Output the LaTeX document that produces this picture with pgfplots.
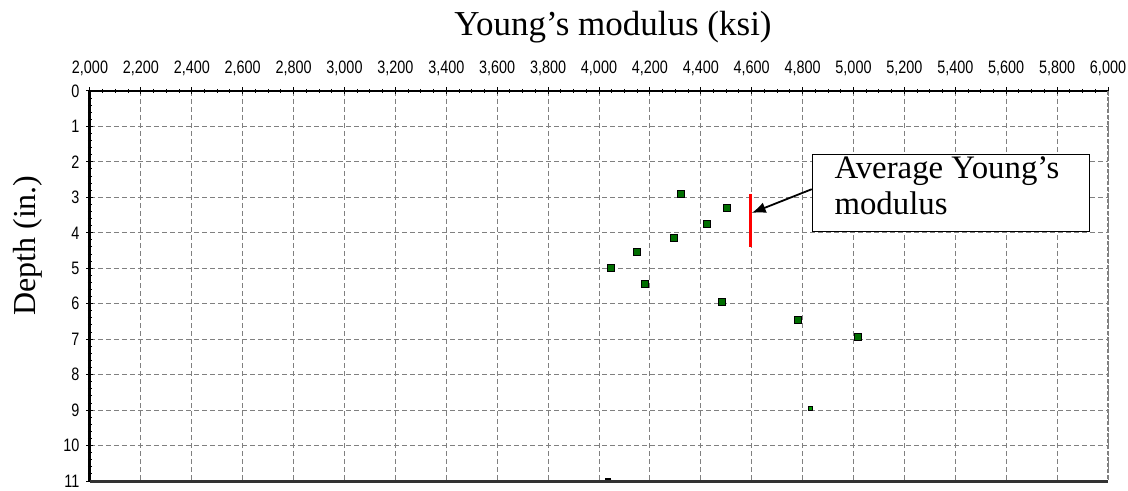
\documentclass[border=0pt]{standalone}
\usepackage{fontspec}
\setmainfont{Liberation Serif}
\newfontfamily\tickfont[FakeStretch=0.8]{Liberation Sans}
\usepackage{pgfplots}
\pgfplotsset{compat=1.18}
\usetikzlibrary{arrows.meta}
\definecolor{dkgreen}{RGB}{0,110,0}
\definecolor{ltgreen}{RGB}{0,150,0}
\begin{document}
\begin{tikzpicture}
\useasboundingbox (-45pt,-5pt) rectangle (519pt,240.5pt);
\begin{axis}[
 scale only axis, width=509pt, height=195pt,
 xmin=2000, xmax=6000, ymin=0, ymax=11,
 y dir=reverse,
 xtick={2000,2200,...,6000}, ytick={0,1,...,11},
 scaled x ticks=false,
 minor x tick num=3, minor y tick num=4,
 xtick pos=upper, ytick pos=left, xticklabel pos=upper,
 tick align=center, major tick length=3.5pt, minor tick length=2pt,
 tick style={black, line width=0.5pt},
 grid=major,
 major grid style={gray, dash pattern=on 2.5pt off 1.5pt, line width=0.5pt},
 axis line style={draw=none},
 ticklabel style={font=\fontsize{9}{10}\tickfont},
 xticklabel style={yshift=2.5pt},
 /pgf/number format/1000 sep={,},
 /pgf/number format/assume math mode=true,
 clip=false,
]
\addplot[only marks, mark=square*, mark size=1.75pt,
  mark options={fill=dkgreen, draw=black, line width=0.5pt}]
  coordinates {(4321,2.90)(4503,3.31)(4424,3.75)(4295,4.15)(4151,4.55)
               (4048,4.99)(4182,5.45)(4484,5.95)(4783,6.45)(5019,6.94)};
\addplot[only marks, mark=square*, mark size=1pt,
  mark options={fill=ltgreen, draw=none}] coordinates {(4832,8.95)};
\addplot[only marks, mark=-, mark size=1.5pt,
  mark options={draw=black, line width=0.8pt}] coordinates {(4037,10.95)};
\addplot[red, line width=1.75pt] coordinates {(4595,2.9)(4595,4.4)};
% frame
\draw[black, line width=1.5pt] (axis cs:2000,0) -- (axis cs:2000,11);
\draw[black, line width=1.2pt] (axis cs:2000,0) -- (axis cs:6000,0);
\draw[black!80, line width=1.5pt] (axis cs:2000,11) -- (axis cs:6000,11);
\draw[gray, line width=1pt, dash pattern=on 2pt off 1pt] (axis cs:6000,0) -- (axis cs:6000,11);
% annotation
\draw[fill=white, line width=0.6pt] (axis cs:4840,1.8) rectangle (axis cs:5926,3.96);
\node[anchor=base west, inner sep=0, font=\fontsize{16.4}{18}\selectfont] at (axis cs:4924,2.47) {Average Young’s};
\node[anchor=base west, inner sep=0, font=\fontsize{16.4}{18}\selectfont] at (axis cs:4924,3.49) {modulus};
\draw[-{Latex[length=7pt,width=5.5pt]}, line width=0.9pt] (axis cs:4836,2.77) -- (axis cs:4600,3.44);
% labels
\node[font=\fontsize{17.5}{19}\selectfont] at ([yshift=32pt]axis cs:4055,0) {Young’s modulus (ksi)};
\node[rotate=90, font=\fontsize{16}{18}\selectfont] at ([xshift=-31pt]axis cs:2000,4.36) {Depth (in.)};
\end{axis}
\end{tikzpicture}
\end{document}
